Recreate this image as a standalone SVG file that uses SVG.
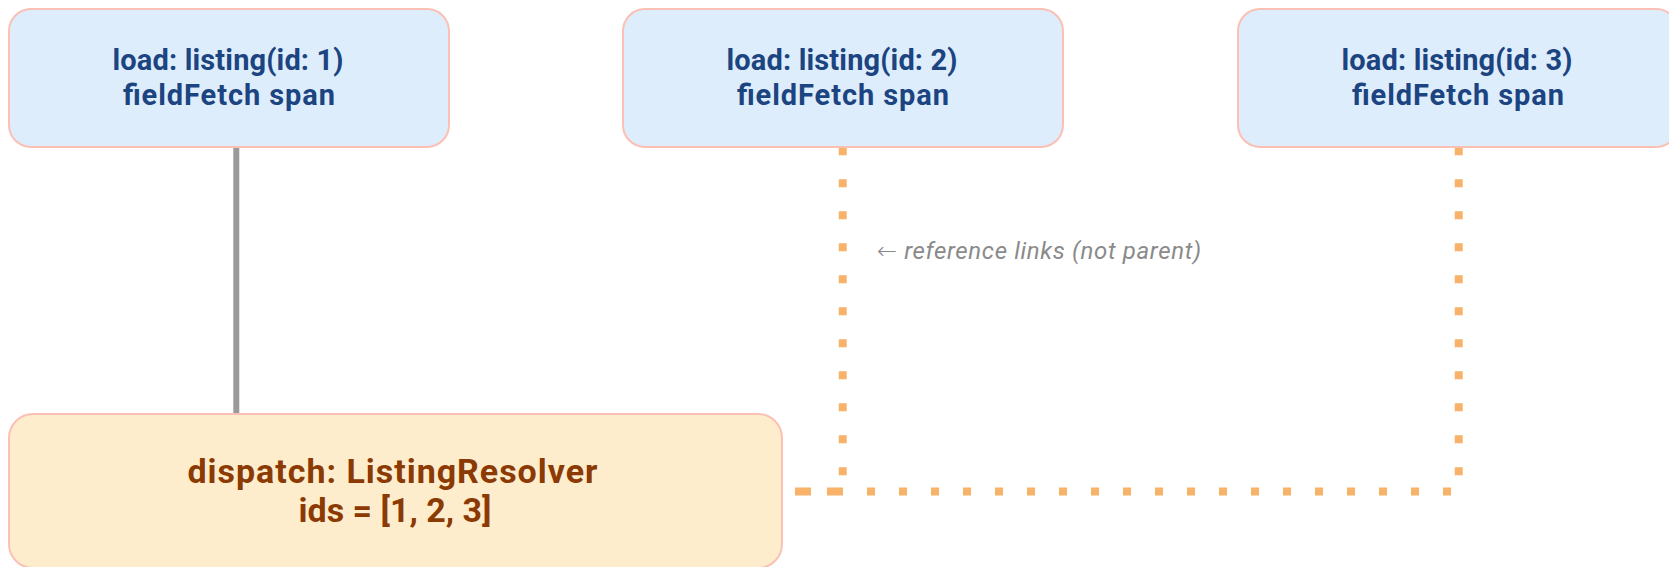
<svg xmlns="http://www.w3.org/2000/svg" width="1669" height="567" viewBox="0 0 1669 567">
  <style>
    .box { stroke: #fbc0b3; stroke-width: 2; }
    .load { fill: #deedfc; }
    .dispatch { fill: #feedcd; }
    .t { font-family: "Roboto", "Liberation Sans", sans-serif; font-weight: 700; text-anchor: middle; }
    .t-load { fill: #1b4480; font-size: 29px; }
    .t-dispatch { fill: #8b3a04; font-size: 34px; }
    .ref { stroke: #f8b26a; stroke-width: 8; fill: none; stroke-dasharray: 8 24; }
    .parent { stroke: #9a9a9a; stroke-width: 6; fill: none; }
    .note { font-family: "Roboto", "Liberation Sans", sans-serif; font-style: italic; font-size: 24px; fill: #8a8a8a; }
    .arrow { font-family: "DejaVu Sans", sans-serif; font-style: normal; font-weight: 300; }
  </style>

  <!-- connectors -->
  <g id="edges">
    <line class="parent" x1="236.3" y1="148" x2="236.3" y2="414"/>
    <path class="ref" d="M795 491.5 H842.7 V147.5"/>
    <path class="ref" d="M795 491.5 H1458.7 V147.5" stroke-dashoffset="24"/>
  </g>

  <!-- span nodes -->
  <g id="load-1">
    <rect class="box load" x="9" y="9" width="440" height="138" rx="22"/>
    <text class="t t-load" x="228" y="70" textLength="231">load: listing(id: 1)</text>
    <text class="t t-load" x="229" y="104.5" textLength="212">fieldFetch span</text>
  </g>
  <g id="load-2">
    <rect class="box load" x="623" y="9" width="440" height="138" rx="22"/>
    <text class="t t-load" x="842" y="70" textLength="231">load: listing(id: 2)</text>
    <text class="t t-load" x="843" y="104.5" textLength="212">fieldFetch span</text>
  </g>
  <g id="load-3">
    <rect class="box load" x="1238" y="9" width="440" height="138" rx="22"/>
    <text class="t t-load" x="1457" y="70" textLength="231">load: listing(id: 3)</text>
    <text class="t t-load" x="1458" y="104.5" textLength="212">fieldFetch span</text>
  </g>
  <g id="dispatch">
    <rect class="box dispatch" x="9" y="414" width="773" height="154" rx="24"/>
    <text class="t t-dispatch" x="392.5" y="483.3" textLength="410">dispatch: ListingResolver</text>
    <text class="t t-dispatch" x="395" y="521.7" textLength="193">ids = [1, 2, 3]</text>
  </g>

  <g id="note">
    <text class="note" x="877" y="258.5" textLength="324"><tspan class="arrow">←</tspan> reference links (not parent)</text>
  </g>
</svg>
